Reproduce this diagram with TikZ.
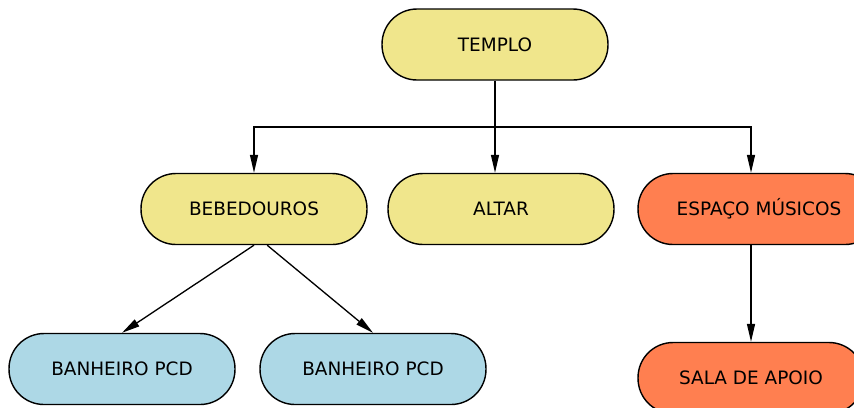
\documentclass[tikz,border=0pt]{standalone}
\usepackage{fontspec}
\setmainfont{DejaVu Sans}
\usepackage{tikz}
\usetikzlibrary{arrows.meta}

\definecolor{khakifill}{HTML}{F0E68C}
\definecolor{bluefill}{HTML}{ADD8E6}
\definecolor{coralfill}{HTML}{FF7F50}

\tikzset{
  room/.style={draw=black,line width=0.8pt,rounded corners=0.7cm,
    minimum width=4.52cm,minimum height=1.42cm,
    font=\fontsize{10.5}{12}\selectfont,text=black},
  edge/.style={line width=0.75pt,-{Triangle[length=0.36cm,width=0.16cm]}}
}

\begin{document}
\begin{tikzpicture}[x=0.02cm,y=-0.02cm]
      \useasboundingbox (0,0) rectangle (854,407);
      \clip (0,0) rectangle (854,407);
      \node[room,fill=khakifill] (templo) at (495,44.5) {TEMPLO};
      \node[room,fill=khakifill] (bebedouros) at (254,209) {BEBEDOUROS};
      \node[room,fill=khakifill] (altar) at (501,209) {ALTAR};
      \node[room,fill=coralfill,minimum width=4.84cm] (espaco) at (759,209) {ESPAÇO MÚSICOS};
      \node[room,fill=coralfill] (sala) at (751,378) {SALA DE APOIO};
      \node[room,fill=bluefill] (banheiroa) at (122,369) {BANHEIRO PCD};
      \node[room,fill=bluefill] (banheirob) at (373,369) {BANHEIRO PCD};
      \coordinate (bus) at (495,127);
      \draw[edge] (templo.south) -- (altar.north -| templo.south);
      \draw[edge] (bus) -| (bebedouros.north);
      \draw[edge] (bus) -| (espaco.north -| sala.north);
      \draw[edge] (bebedouros.south) -- (banheiroa.north);
      \draw[edge] (bebedouros.-70) -- (banheirob.north);
      \draw[edge] (sala.north |- espaco.south) -- (sala.north);
    \end{tikzpicture}
\end{document}
